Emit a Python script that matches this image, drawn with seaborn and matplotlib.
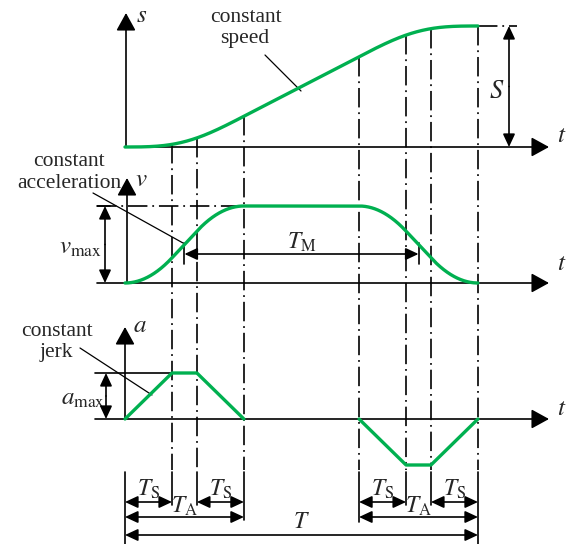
import numpy as np
import pandas as pd
import matplotlib
matplotlib.use("Agg")
import matplotlib.pyplot as plt
import seaborn as sns

# ---------------- S-curve motion profile data ----------------
# phase durations in units of the jerk time T_S
phase_names = ["T_S", "T_C", "T_S", "T_V", "T_S", "T_C", "T_S"]
phase_durations = [1.0, 0.53, 1.0, 2.45, 1.0, 0.53, 1.0]
# acceleration (a / a_max) at each phase boundary
accel_levels = [0.0, 1.0, 1.0, 0.0, 0.0, -1.0, -1.0, 0.0]
# which motion stage each boundary belongs to (accel / decel pulse)
accel_stage = ["accel", "accel", "accel", "accel", "decel", "decel", "decel", "decel"]

# ---------------- styling / layout ----------------
sns.set_theme(style="white")
plt.rcParams["font.family"] = ["Liberation Serif", "DejaVu Serif"]
plt.rcParams["mathtext.fontset"] = "stix"
plt.rcParams["lines.scale_dashes"] = False

GREEN = "#00b050"
LW_AX = 1.2
LW_CURVE = 2.4
DASHDOT = (0, (14, 3.5, 1.3, 3.5))

W, H = 573, 544
X0, PX_PER_T = 125, 47.0          # where t = 0 sits, and horizontal scale
BASE_S, H_S = 147, 121            # panel baselines and heights
BASE_V, H_V = 283, 77
BASE_A, H_A = 419, 46


def X(p):
    """horizontal layout position -> time units"""
    return (p - X0) / PX_PER_T


# ---------------- kinematics ----------------
t_break = np.concatenate([[0.0], np.cumsum(phase_durations)])
T_total = t_break[-1]
t = np.linspace(0.0, T_total, 3001)
a = np.interp(t, t_break, accel_levels)
v = np.concatenate([[0.0], np.cumsum((a[1:] + a[:-1]) / 2 * np.diff(t))])
s = np.concatenate([[0.0], np.cumsum((v[1:] + v[:-1]) / 2 * np.diff(t))])
v_n = v / v.max()
s_n = s / s[-1]

df = pd.DataFrame({
    "t": t,
    "s": BASE_S - H_S * s_n,
    "v": BASE_V - H_V * v_n,
})
df_a = pd.DataFrame({"t": t_break,
                     "a": BASE_A - H_A * np.array(accel_levels),
                     "stage": accel_stage})

fig = plt.figure(figsize=(W / 100, H / 100), dpi=100)
ax = fig.add_axes([0, 0, 1, 1])
ax.set_xlim(X(0), X(W))
ax.set_ylim(H, 0)
ax.axis("off")


def arrow(x0, y0, x1, y1, style="-|>", ms=18, lw=LW_AX, hl=0.6, hw=0.33):
    ax.annotate("", xy=(x1, y1), xytext=(x0, y0),
                arrowprops=dict(arrowstyle=f"{style},head_length={hl},head_width={hw}",
                                color="black", lw=lw, shrinkA=0, shrinkB=0,
                                mutation_scale=ms), zorder=4)


def dim_arrow(x0, x1, y):
    arrow(x0, y, x1, y, style="<|-|>", ms=13, hl=0.6, hw=0.28)


# ---------------- axes of the three panels ----------------
arrow(X(125), BASE_S, X(549), BASE_S)
arrow(X(126), BASE_S, X(126), 13)
arrow(X(97), BASE_V, X(549), BASE_V)
arrow(X(127), BASE_V, X(127), 178)
arrow(X(95), BASE_A, X(549), BASE_A)
arrow(X(125), BASE_A, X(125), 327)

ax.text(X(142), 16, "$s$", fontsize=18, ha="center", va="center")
ax.text(X(141), 180, "$v$", fontsize=18, ha="center", va="center")
ax.text(X(140), 326, "$a$", fontsize=18, ha="center", va="center")
for yt in (136, 264, 409):
    ax.text(X(562), yt, "$t$", fontsize=18, ha="center", va="center")

# ---------------- curves ----------------
sns.lineplot(data=df, x="t", y="s", ax=ax, color=GREEN, lw=LW_CURVE,
             estimator=None, sort=False, zorder=5)
sns.lineplot(data=df, x="t", y="v", ax=ax, color=GREEN, lw=LW_CURVE,
             estimator=None, sort=False, zorder=5)
sns.lineplot(data=df_a, x="t", y="a", units="stage", ax=ax, color=GREEN,
             lw=LW_CURVE, estimator=None, sort=False, zorder=5)

# ---------------- phase boundary guides ----------------
s_at = np.interp(t_break, t, df["s"].to_numpy())
for tb, sy in zip(t_break[1:], s_at[1:]):
    ax.plot([tb, tb], [sy, 470], color="black", lw=LW_AX, ls=DASHDOT, zorder=2)

# extension lines for the dimension chain
ext_bottom = [544, 505, 505, 520, 522, 505, 505, 544]
for tb, yb in zip(t_break, ext_bottom):
    ax.plot([tb, tb], [472, yb], color="black", lw=LW_AX, zorder=2)

# level guides
ax.plot([X(97), X(250)], [BASE_V - H_V] * 2, color="black", lw=LW_AX, ls=DASHDOT, zorder=2)
ax.plot([X(97), X(110)], [BASE_V - H_V] * 2, color="black", lw=LW_AX, zorder=2)
ax.plot([T_total, X(517)], [BASE_S - H_S] * 2, color="black", lw=LW_AX, ls=DASHDOT, zorder=2)
ax.plot([X(95), t_break[1]], [BASE_A - H_A] * 2, color="black", lw=LW_AX, zorder=2)

# amplitude arrows
arrow(X(509), (BASE_S + BASE_S - H_S) / 2, X(509), BASE_S - H_S, ms=13, hl=0.6, hw=0.28)
arrow(X(509), (BASE_S + BASE_S - H_S) / 2, X(509), BASE_S, ms=13, hl=0.6, hw=0.28)
ax.text(X(497), 92, "$S$", fontsize=19, ha="center", va="center")

arrow(X(105), BASE_V - H_V / 2, X(105), BASE_V - H_V, ms=13, hl=0.6, hw=0.28)
arrow(X(105), BASE_V - H_V / 2, X(105), BASE_V, ms=13, hl=0.6, hw=0.28)
ax.text(X(102), 248, r"$v_{\mathrm{max}}$", fontsize=18, ha="right", va="center")

arrow(X(106), BASE_A - H_A / 2, X(106), BASE_A - H_A, ms=13, hl=0.6, hw=0.28)
arrow(X(106), BASE_A - H_A / 2, X(106), BASE_A, ms=13, hl=0.6, hw=0.28)
ax.text(X(105), 399, r"$a_{\mathrm{max}}$", fontsize=18, ha="right", va="center")

# constant-velocity span between the accel / decel midpoints
t_acc = t_break[3]
tm0, tm1 = t_acc / 2, T_total - t_acc / 2
dim_arrow(tm0, tm1, 254)
for tm in (tm0, tm1):
    ax.plot([tm, tm], [243, 264], color="black", lw=LW_AX, zorder=3)
ax.text((tm0 + tm1) / 2, 242, r"$T_{\mathrm{M}}$", fontsize=17, ha="center", va="center")

# ---------------- dimension chain ----------------
for i0, i1 in [(0, 1), (2, 3), (4, 5), (6, 7)]:
    dim_arrow(t_break[i0], t_break[i1], 502)
    ax.text((t_break[i0] + t_break[i1]) / 2, 489, r"$T_{\mathrm{S}}$",
            fontsize=17, ha="center", va="center")
for i0, i1 in [(0, 3), (4, 7)]:
    dim_arrow(t_break[i0], t_break[i1], 517)
    ax.text((t_break[i0] + t_break[i1]) / 2, 506, r"$T_{\mathrm{A}}$",
            fontsize=17, ha="center", va="center")
dim_arrow(0.0, T_total, 535)
ax.text(T_total / 2, 522, "$T$", fontsize=17, ha="center", va="center")

# ---------------- annotations ----------------
ax.text(X(246), 18, "constant", fontsize=15.5, ha="center", va="center")
ax.text(X(245), 39, "speed", fontsize=15.5, ha="center", va="center")
ax.plot([X(265), X(301)], [55, 91], color="black", lw=0.9, zorder=3)

ax.text(X(69), 162, "constant", fontsize=15.5, ha="center", va="center")
ax.text(X(69), 183, "acceleration", fontsize=15.5, ha="center", va="center")
ax.plot([X(93), X(183)], [193, 243], color="black", lw=0.9, zorder=3)

ax.text(X(57), 332, "constant", fontsize=15.5, ha="center", va="center")
ax.text(X(56), 353, "jerk", fontsize=15.5, ha="center", va="center")
ax.plot([X(80), X(152)], [348, 395], color="black", lw=0.9, zorder=3)

fig.savefig("out.png", dpi=100)
